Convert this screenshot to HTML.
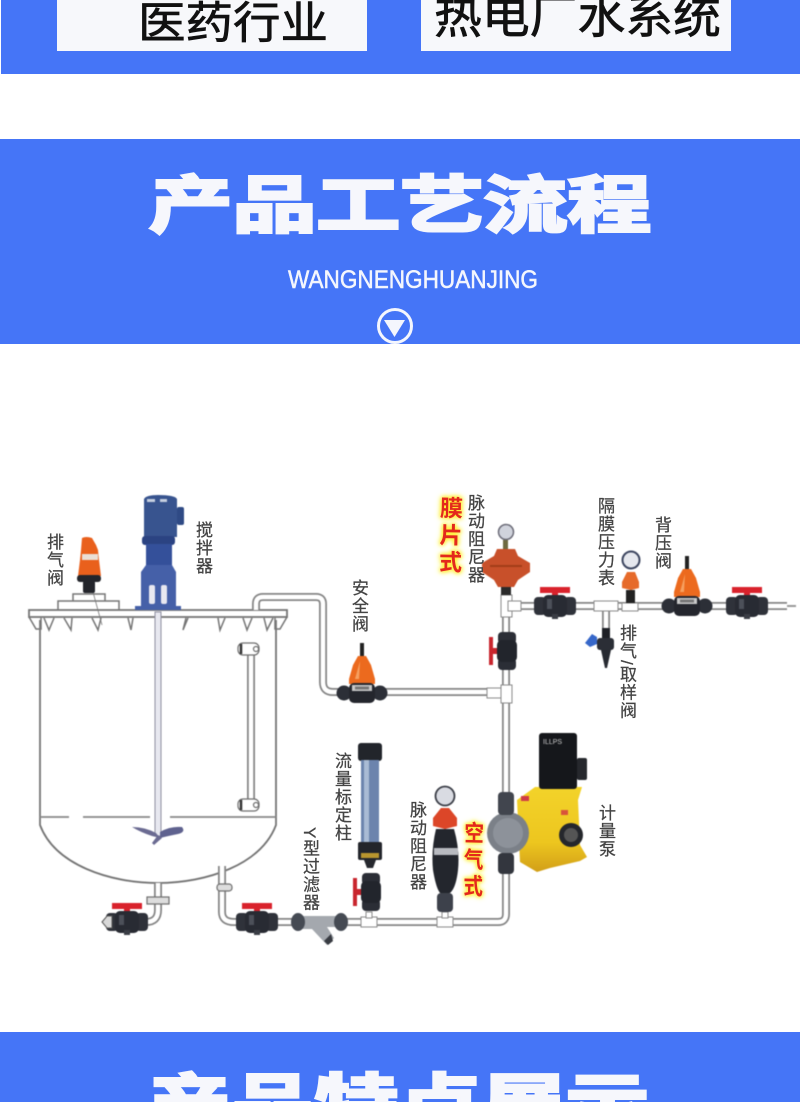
<!DOCTYPE html>
<html lang="zh"><head><meta charset="utf-8"><title>产品工艺流程</title>
<style>
html,body{margin:0;padding:0;background:#fff}
#w{position:relative;width:800px;height:1102px;overflow:hidden;background:#fff;font-family:"Liberation Sans","Noto Sans CJK SC",sans-serif}
#w svg{position:absolute;left:0;top:0}
.l{position:absolute;writing-mode:vertical-rl;font-size:17px;line-height:17px;letter-spacing:1px;color:#444;white-space:nowrap;filter:blur(.35px);-webkit-text-stroke:.25px #444}
.g{position:absolute;writing-mode:vertical-rl;font-size:23px;line-height:23px;font-weight:bold;color:#e3281c;white-space:nowrap;text-shadow:0 0 4px #ffee30,0 0 5px #ffee30,0 0 7px #ffee30}
</style></head><body><div id="w">
<svg width="800" height="1102" viewBox="0 0 800 1102" font-family="'Liberation Sans','Noto Sans CJK SC',sans-serif">
<defs>
<linearGradient id="yel" x1="0" y1="0" x2="0" y2="1"><stop offset="0" stop-color="#f3d32a"/><stop offset=".65" stop-color="#edc61f"/><stop offset="1" stop-color="#d29f18"/></linearGradient>
<g id="pipes" fill="none" stroke-linejoin="round">
<path d="M256 610V604Q256 597 263 597H316Q323 597 323 604V682Q323 692 333 692H500"/>
<path d="M506 595V914Q506 922 498 922H277"/>
<path d="M506 606H787"/>
<path d="M222 866V912Q222 922 234 922H240"/>
<path d="M158 883V910Q158 922 146 922H140"/>
<path d="M251 655V800"/>
<path d="M606 606V630"/>
</g>
<g id="valve">
<path d="M-15 -19H15V-13H3V-6H-3V-13H-15Z" fill="#d9222c"/>
<rect x="-21" y="-9" width="12" height="18" rx="4" fill="#2f323a"/>
<rect x="9" y="-9" width="12" height="18" rx="4" fill="#2f323a"/>
<rect x="-12" y="-11" width="24" height="22" rx="5" fill="#282b33"/>
<rect x="-3" y="8" width="6" height="5" fill="#3a3d45"/>
<rect x="-8" y="-7" width="5" height="10" fill="#4c5059"/>
</g>
<g id="valveV">
<path d="M-18 -14H-14V-3H-6V3H-14V14H-18Z" fill="#c9262e"/>
<rect x="-9" y="-19" width="18" height="12" rx="4" fill="#2b2e36"/>
<rect x="-9" y="7" width="18" height="12" rx="4" fill="#2b2e36"/>
<rect x="-10" y="-11" width="20" height="22" rx="5" fill="#22252c"/>
</g>
<g id="relief">
<rect x="-2" y="-50" width="4" height="14" fill="#222"/>
<path d="M-4 -37H4L9 -28L13 -14V-9H-13V-14L-9 -28Z" fill="#ec6a1e"/>
<path d="M-2 -32L-7 -14H-3Z" fill="#f6a060"/>
<circle cx="-18" cy="0" r="7.500" fill="#2c2f37"/><circle cx="18" cy="0" r="7.500" fill="#2c2f37"/>
<rect x="-13" y="-10" width="26" height="20" rx="5" fill="#24262d"/>
<rect x="-10" y="-8" width="20" height="6" fill="#c9c9c9"/>
<rect x="-7" y="-6.500" width="14" height="3" fill="#777"/>
</g>
<g id="tee"><rect x="-8" y="-5" width="16" height="10" fill="#fff" stroke="#8a8a8a"/></g>
</defs>

<!-- blue bands -->
<rect x="1" y="0" width="799" height="74" fill="#4575f7"/>
<rect x="57" y="0" width="310" height="51" fill="#f7f8fb"/>
<rect x="421" y="0" width="310" height="51" fill="#f7f8fb"/>
<text x="138" y="38" font-size="44" textLength="190" lengthAdjust="spacingAndGlyphs" fill="#111" stroke="#111" stroke-width=".7">医药行业</text>
<text x="434" y="33" font-size="47" textLength="287" lengthAdjust="spacingAndGlyphs" fill="#111" stroke="#111" stroke-width=".7">热电厂水系统</text>

<rect x="0" y="139" width="800" height="205" fill="#4575f7"/>
<g transform="translate(149,227) scale(1,.74)"><text font-size="84" font-weight="bold" stroke="#f6f7fc" stroke-width="4" stroke-linejoin="miter" fill="#f6f7fc" textLength="502" lengthAdjust="spacingAndGlyphs">产品工艺流程</text></g>
<text x="288" y="288" font-size="25" fill="#f4f6fd" stroke="#f4f6fd" stroke-width=".5" textLength="250" lengthAdjust="spacingAndGlyphs">WANGNENGHUANJING</text>
<circle cx="395" cy="326" r="16.500" fill="none" stroke="#f4f6fd" stroke-width="3"/>
<path d="M384 320H405L394.500 337Z" fill="#f4f6fd"/>

<rect x="0" y="1032" width="800" height="70" fill="#4575f7"/>
<g transform="translate(147,1125) scale(1,.74)"><text font-size="84" font-weight="bold" stroke="#f6f7fc" stroke-width="4" stroke-linejoin="miter" fill="#f6f7fc" textLength="502" lengthAdjust="spacingAndGlyphs">产品特点展示</text></g>

<g style="filter:blur(.45px)">
<!-- tank -->
<g fill="none" stroke="#757575" stroke-width="1.800">
<path d="M40 620V825C55 865 110 883 158 883C206 883 261 865 276 825V620"/>
<path d="M40 817H69M83 817H150M170 817H276" stroke="#888"/>
<rect x="29" y="610" width="258" height="7" fill="#fff"/>
<path d="M58 610V601H119V610M73 601V594H105V601" stroke-width="1.500"/>
<path d="M29 617L36 629H41V618M287 617L280 629H275V618" stroke-width="1.500"/>
<path d="M44 618L49 630L54 618M64 618L71 630L72 618M92 618L98 630L101 618M128 618L131 630L133 618M186 618L183 630L188 618M218 618L220 630L225 618M243 618L247 630L252 618M264 618L267 630L273 618" stroke-width="1.500"/>
</g>
<path d="M93 592L102 625" stroke="#777" stroke-width=".8" fill="none"/>
<!-- shaft -->
<rect x="155" y="612" width="6" height="224" fill="#e7e8f0" stroke="#8e8ea0" stroke-width="1"/>
<!-- impeller -->
<path d="M132 827Q145 827 156 833L160 838L152 836Q140 832 132 827Z" fill="#6b6b92"/>
<path d="M160 832Q170 826 182 827Q186 832 178 834Q168 836 160 838Z" fill="#5f628f"/>
<path d="M158 835L162 838L154 845L152 843Z" fill="#6b6b92"/>

<use href="#pipes" fill="none" stroke="#858585" stroke-width="8"/>
<use href="#pipes" fill="none" stroke="#fff" stroke-width="4.500"/>
<g fill="#fff" stroke="#6f6f6f" stroke-width="1.200">
<rect x="238" y="643" width="21" height="12" rx="5"/><circle cx="256" cy="649" r="2.500"/>
<rect x="238" y="799" width="21" height="12" rx="5"/><circle cx="256" cy="805" r="2.500"/>
<rect x="147" y="897" width="22" height="7" fill="#ddd"/>
<rect x="217" y="884" width="15" height="7" rx="3" fill="#ddd"/>
</g>
<path d="M241 644V654M241 800V810" stroke="#333" stroke-width="2.500"/>

<!-- agitator -->
<path d="M144 499Q146 495 158 495Q175 495 177 499V537H144Z" fill="#38548f"/>
<rect x="147" y="499" width="8" height="3" fill="#c6cfe0"/><rect x="160" y="499" width="7" height="3" fill="#c6cfe0"/>
<rect x="177" y="507" width="7" height="18" rx="2" fill="#2f4a85"/>
<rect x="142" y="536" width="33" height="9" rx="3" fill="#2b4382"/>
<rect x="146" y="544" width="26" height="21" fill="#34509a"/>
<path d="M146 565H172L176 572V607H141V572Z" fill="#4560a8"/>
<rect x="149" y="585" width="6" height="19" rx="2" fill="#e8e8f0"/><rect x="161" y="585" width="6" height="19" rx="2" fill="#e8e8f0"/>
<rect x="135" y="606" width="46" height="4" fill="#4560a8"/>

<!-- breather valve -->
<path d="M82 538Q86 536 92 538L96 545L98 550L99 560L101 576H78L80 560L81 550Z" fill="#e9601c"/>
<rect x="82" y="554" width="16" height="6" fill="#eadfd6"/>
<rect x="77" y="575" width="24" height="7" rx="3" fill="#23252b"/>
<rect x="83" y="581" width="12" height="12" rx="2" fill="#23252b"/>

<use href="#relief" x="362" y="693"/>

<!-- ball valves -->
<use href="#valve" x="555" y="606"/>
<use href="#valve" x="747" y="606"/>
<use href="#valve" x="127" y="922"/>
<use href="#valve" x="257" y="922"/>
<path d="M102 922L107 916H112V928H107Z" fill="#d8d8d8" stroke="#555"/>
<use href="#valveV" x="507" y="651"/>
<use href="#valveV" x="371" y="892"/>

<!-- top right -->
<path d="M787 606H796" stroke="#999" stroke-width="2"/>
<g fill="#fff" stroke="#8a8a8a" stroke-width="1">
<rect x="501" y="595" width="11" height="22"/>
<rect x="508" y="601" width="13" height="10"/>
<rect x="594" y="601" width="24" height="10"/>
<rect x="622" y="603" width="16" height="8"/>
<rect x="487" y="688" width="14" height="10"/>
<rect x="501" y="685" width="11" height="18"/>
</g>
<!-- membrane damper -->
<rect x="501" y="586" width="10" height="9" fill="#2a2a2a"/>
<path d="M482 563L494 556L497 549H515L518 556L530 563V572L518 580L514 587H498L494 580L482 572Z" fill="#c8502a"/>
<path d="M490 566H522" stroke="#a33d18" stroke-width="2"/>
<rect x="503" y="540" width="5" height="9" fill="#6e6a40"/>
<circle cx="506" cy="532" r="7.500" fill="#d0d3dc" stroke="#6c6c78" stroke-width="1.500"/>
<!-- back-pressure gauge -->
<circle cx="631" cy="560" r="8.500" fill="#e6e8ee" stroke="#3d4660" stroke-width="2"/>
<path d="M627 572H635L639 582V588L631 590L622 588V582Z" fill="#e66a2a"/>
<rect x="626" y="590" width="9" height="13" fill="#222"/>
<!-- sampling valve -->
<rect x="602" y="628" width="8" height="12" fill="#1e2026"/>
<rect x="597" y="638" width="17" height="12" rx="3" fill="#2b2e36"/>
<path d="M601 650H611L607 668H605Z" fill="#272a31"/>
<path d="M585 643L592 634L597 637V644L590 647Z" fill="#3667c9"/>
<use href="#relief" x="687" y="606"/>

<!-- flow column -->
<rect x="358" y="743" width="24" height="18" rx="3" fill="#22252b"/>
<rect x="361" y="760" width="18" height="83" fill="#6c84ad"/>
<rect x="364" y="760" width="5" height="83" fill="#a9bbd4"/>
<rect x="358" y="842" width="24" height="18" rx="2" fill="#23252b"/>
<rect x="361" y="853" width="18" height="5" fill="#b9952e"/>
<path d="M364 860H376L373 868H367Z" fill="#26282e"/>
<use href="#tee" x="369" y="922"/>
<use href="#tee" x="445" y="922"/>
<rect x="366" y="912" width="6" height="6" fill="#fff" stroke="#8a8a8a"/>
<rect x="442" y="912" width="6" height="6" fill="#fff" stroke="#8a8a8a"/>
<!-- Y filter -->
<path d="M300 916H340V927H327L334 938L327 945L312 929H300Z" fill="#a4a8ae"/>
<path d="M324 941L331 934L333 941L328 945Z" fill="#383b42"/>
<ellipse cx="298" cy="922" rx="7" ry="9" fill="#454a53"/>
<ellipse cx="341" cy="922" rx="7" ry="9" fill="#454a53"/>
<!-- air damper -->
<circle cx="445" cy="796" r="9.500" fill="#d9dbe2" stroke="#3c3f48" stroke-width="1.800"/>
<path d="M441 808H449L457 818V826L445 829L433 826V818Z" fill="#dc4628"/>
<path d="M436 829Q431 850 433 870Q436 888 440 893H450Q456 888 458 870Q460 850 454 829Z" fill="#23262d"/>
<rect x="434" y="848" width="24" height="7" fill="#b8bac0"/>
<rect x="437" y="893" width="16" height="19" rx="4" fill="#3d414b"/>

<!-- pump -->
<path d="M535 787H582L578 800L580 845L587 857L580 861L550 868L537 872L520 862L517 800Z" fill="url(#yel)"/>
<rect x="539" y="733" width="38" height="56" rx="3" fill="#15171b"/>
<rect x="577" y="758" width="10" height="22" rx="2" fill="#26282d"/>
<text x="543" y="744" font-size="7" fill="#ccc">ILLPS</text>
<circle cx="508" cy="833" r="21" fill="#7b8088"/>
<circle cx="508" cy="833" r="15" fill="#8d929a"/>
<rect x="498" y="792" width="16" height="23" rx="4" fill="#41454e"/>
<rect x="498" y="853" width="16" height="21" rx="4" fill="#33363e"/>
<circle cx="571" cy="835" r="12" fill="#25272c"/>
<circle cx="571" cy="835" r="7" fill="#555"/>
<rect x="521" y="796" width="8" height="5" fill="#cf3c46"/>
<rect x="561" y="810" width="7" height="5" fill="#d8543a"/>
</g>
</svg>

<div class="l" style="left:45px;top:533px">排气阀</div>
<div class="l" style="left:194px;top:521px">搅拌器</div>
<div class="l" style="left:350px;top:579px">安全阀</div>
<div class="l" style="left:466px;top:494px">脉动阻尼器</div>
<div class="l" style="left:596px;top:497px">隔膜压力表</div>
<div class="l" style="left:653px;top:516px">背压阀</div>
<div class="l" style="left:618px;top:624px">排气/取样阀</div>
<div class="l" style="left:333px;top:752px">流量标定柱</div>
<div class="l" style="left:301px;top:827px">Y型过滤器</div>
<div class="l" style="left:408px;top:801px">脉动阻尼器</div>
<div class="l" style="left:597px;top:804px">计量泵</div>
<div class="g" style="left:437px;top:496px;letter-spacing:4px;transform:rotate(1deg)">膜片式</div>
<div class="g" style="left:460px;top:821px;letter-spacing:3.500px;transform:rotate(1deg) scaleX(.85)">空气式</div>
</div></body></html>
